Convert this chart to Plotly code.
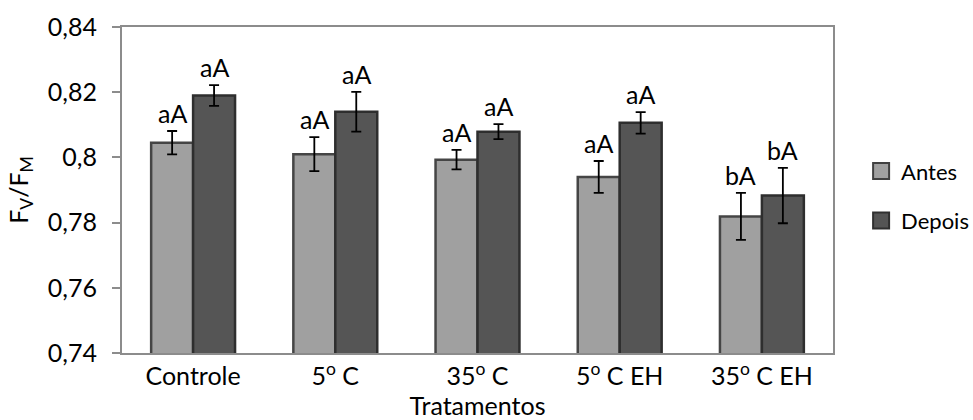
import plotly.graph_objects as go

categories = ["Controle", "5<sup>o</sup> C", "35<sup>o</sup> C", "5<sup>o</sup> C EH", "35<sup>o</sup> C EH"]
antes = [0.8045, 0.8010, 0.7993, 0.7940, 0.7819]
antes_err = [0.0036, 0.0052, 0.0030, 0.0049, 0.0072]
depois = [0.8190, 0.8140, 0.8079, 0.8106, 0.7883]
depois_err = [0.0032, 0.0061, 0.0023, 0.0033, 0.0085]
antes_labels = ["aA", "aA", "aA", "aA", "bA"]
depois_labels = ["aA", "aA", "aA", "aA", "bA"]
yticks = [0.74, 0.76, 0.78, 0.80, 0.82, 0.84]
ytick_text = ["0,74", "0,76", "0,78", "0,8", "0,82", "0,84"]

FONT = "Lato"
FS = 25
ANTES_COLOR = "#a0a0a0"
DEPOIS_COLOR = "#555555"

fig = go.Figure()
fig.add_trace(go.Bar(
    name="Antes", x=categories, y=antes, base=0, showlegend=False,
    marker=dict(color=ANTES_COLOR, line=dict(color="#454545", width=2.5)),
    error_y=dict(type="data", array=antes_err, color="black", thickness=1.8, width=5),
))
fig.add_trace(go.Bar(
    name="Depois", x=categories, y=depois, base=0, showlegend=False,
    marker=dict(color=DEPOIS_COLOR, line=dict(color="#2e2e2e", width=2.5)),
    error_y=dict(type="data", array=depois_err, color="black", thickness=1.8, width=5),
))
# legend entries (square symbols)
fig.add_trace(go.Scatter(name="Antes", x=[categories[0]], y=[None], mode="markers",
                         marker=dict(symbol="square", size=16, color=ANTES_COLOR,
                                     line=dict(color="#404040", width=2)),
                         legendgroup="a"))
fig.add_trace(go.Scatter(name="Depois", x=[categories[0]], y=[None], mode="markers",
                         marker=dict(symbol="square", size=16, color=DEPOIS_COLOR,
                                     line=dict(color="#303030", width=2)),
                         legendgroup="b"))

annotations = []
for i, c in enumerate(categories):
    annotations.append(dict(x=c, y=antes[i] + antes_err[i], text=antes_labels[i], xref="x", yref="y",
                            showarrow=False, yanchor="bottom", yshift=1, xshift=-21,
                            font=dict(family=FONT, size=FS, color="black")))
    annotations.append(dict(x=c, y=depois[i] + depois_err[i], text=depois_labels[i], xref="x", yref="y",
                            showarrow=False, yanchor="bottom", yshift=1, xshift=21,
                            font=dict(family=FONT, size=FS, color="black")))

fig.update_layout(
    width=973, height=420,
    margin=dict(l=122, r=140, t=27, b=67, autoexpand=False),
    paper_bgcolor="white", plot_bgcolor="white",
    barmode="group", bargap=0.41, bargroupgap=0,
    font=dict(family=FONT, size=FS, color="black"),
    separators=", ",
    showlegend=True,
    legend=dict(xref="container", yref="container", x=0.885, y=0.533,
                xanchor="left", yanchor="middle",
                font=dict(family=FONT, size=22), tracegroupgap=18,
                traceorder="grouped", itemwidth=30, bgcolor="rgba(0,0,0,0)"),
    annotations=annotations,
    xaxis=dict(showline=True, linecolor="#8c8c8c", linewidth=2, mirror=True,
               ticks="", tickfont=dict(family=FONT, size=FS), automargin=False,
               title=dict(text="Tratamentos", font=dict(family=FONT, size=FS), standoff=2)),
    yaxis=dict(range=[0.74, 0.84], tickvals=yticks, ticktext=ytick_text,
               showgrid=False, zeroline=False, automargin=False,
               showline=True, linecolor="#8c8c8c", linewidth=2, mirror=True,
               ticks="outside", ticklen=8, tickcolor="#8c8c8c", tickwidth=2,
               ticklabelstandoff=10,
               tickfont=dict(family=FONT, size=FS),
               title=dict(text="F<sub>V</sub>/F<sub>M</sub>", font=dict(family=FONT, size=FS), standoff=12)),
)

fig.write_html("out.html")
